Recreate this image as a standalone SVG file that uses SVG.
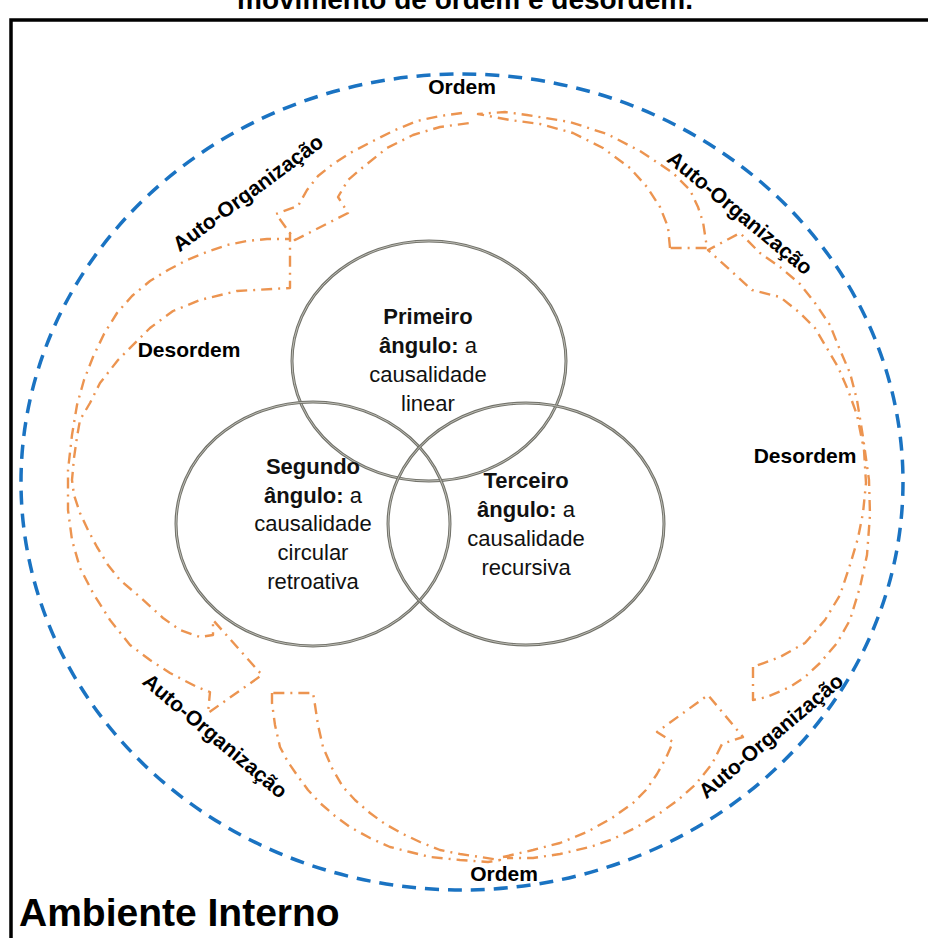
<svg xmlns="http://www.w3.org/2000/svg" width="928" height="938" viewBox="0 0 928 938">
<style>
.lbl{font-family:"Liberation Sans",Arial,sans-serif;font-weight:bold;font-size:21px;fill:#000}
.ct{font-family:"Liberation Sans",Arial,sans-serif;font-size:22px;fill:#111;text-anchor:middle}
.b{font-weight:bold}
.circ{fill:none;stroke:#72726a;stroke-width:3}
.circi{fill:none;stroke:#cfcfc8;stroke-width:0.8}
.arr{fill:none;stroke:#EC9450;stroke-width:2.4;stroke-dasharray:11 6 2 6;stroke-linejoin:round}
</style>
<rect width="928" height="938" fill="#fff"/>
<text x="465" y="9" text-anchor="middle" style="font-family:'Liberation Sans',Arial,sans-serif;font-weight:bold;font-size:28px">movimento de ordem e desordem.</text>
<path d="M928,20 H11 V938" fill="none" stroke="#000" stroke-width="3.5"/>
<ellipse id="env" cx="462" cy="482" rx="441" ry="408" fill="none" stroke="#1a73c2" stroke-width="3.5" stroke-dasharray="14 9"/>

<g id="connectors">
<path class="arr" d="M462,113 L440,116 L417,121 L395,130 L373,141 L352,152 L333,164 L318,176 L307,190 L298,206 L276,214 L295,240 L348,213 L338,197 L348,180 L362,168 L387,148 L413,135 L440,127 L470,123"/>
<path class="arr" d="M670,248 L668,227 L660,207 L647,187 L630,168 L603,148 L573,133 L540,124 L510,120 L478,114 L505,112 L527,115 L570,122 L607,134 L640,151 L673,173 L690,190 L698,207 L703,222 L705,235 L707,248 Z"/>
<path class="arr" d="M753,667 L753,700 L767,697 L790,687 L805,677 L820,663 L837,643 L850,620 L860,587 L867,555 L870,515 L869,480 L863,437 L857,400 L850,373 L840,350 L830,325 L815,303 L800,284 L780,267 L760,253 L740,233 L708,250 L752,290 L780,297 L800,313 L815,328 L825,345 L838,367 L848,390 L857,415 L864,450 L866,483 L863,513 L858,538 L850,565 L840,595 L825,620 L805,643 L780,657 Z"/>
<path class="arr" d="M503,857 L533,850 L560,843 L587,832 L612,818 L633,803 L646,790 L657,774 L666,758 L673,742 L657,732 L708,695 L743,737 L722,744 L712,764 L695,785 L678,800 L660,813 L637,827 L613,839 L590,847 L560,854 L533,858 L507,858"/>
<path class="arr" d="M272,693 L272,703 L275,725 L280,747 L288,762 L297,775 L308,790 L320,803 L335,816 L350,827 L370,838 L390,847 L410,852 L430,857 L460,860 L488,862 L500,860 L480,857 L460,854 L440,850 L420,842 L403,834 L385,824 L370,813 L355,800 L343,787 L332,768 L323,747 L318,725 L315,705 L313,693 Z"/>
<path class="arr" d="M290,233 L290,239 L267,239 L247,241 L227,245 L207,252 L187,260 L168,270 L150,281 L132,296 L117,313 L104,334 L93,357 L84,380 L77,405 L72,435 L68,470 L68,510 L72,540 L80,568 L93,593 L110,620 L130,645 L150,660 L170,673 L197,687 L210,692 L208,713 L262,675 L213,620 L213,635 L200,637 L180,630 L163,618 L140,597 L120,580 L108,565 L97,547 L88,530 L80,513 L74,495 L72,480 L74,458 L77,437 L80,420 L90,403 L100,383 L118,360 L137,341 L150,328 L173,311 L200,300 L237,291 L290,288 Z"/>
</g>

<g id="labels">
<text class="lbl" x="462" y="94" text-anchor="middle">Ordem</text>
<text class="lbl" x="504" y="881" text-anchor="middle">Ordem</text>
<text class="lbl" x="189" y="357" text-anchor="middle">Desordem</text>
<text class="lbl" x="805" y="463" text-anchor="middle">Desordem</text>
<text class="lbl" text-anchor="middle" transform="translate(248,193) rotate(-36.5)" y="7">Auto-Organização</text>
<text class="lbl" text-anchor="middle" transform="translate(740,213) rotate(39.6)" y="7">Auto-Organização</text>
<text class="lbl" text-anchor="middle" transform="translate(215,736) rotate(39.9)" y="7">Auto-Organização</text>
<text class="lbl" text-anchor="middle" transform="translate(771,736) rotate(-40)" y="7">Auto-Organização</text>
</g>

<g id="n1">
<ellipse class="circ" cx="429" cy="361" rx="137" ry="120"/>
<ellipse class="circi" cx="429" cy="361" rx="137" ry="120"/>
</g>
<g id="n2">
<ellipse class="circ" cx="313" cy="524" rx="137" ry="122"/>
<ellipse class="circi" cx="313" cy="524" rx="137" ry="122"/>
</g>
<g id="n3">
<ellipse class="circ" cx="526" cy="524" rx="138" ry="121"/>
<ellipse class="circi" cx="526" cy="524" rx="138" ry="121"/>
</g>
<g id="t1">
<text class="ct b" x="428" y="324">Primeiro</text>
<text class="ct" x="428" y="353"><tspan class="b">ângulo:</tspan> a</text>
<text class="ct" x="428" y="382">causalidade</text>
<text class="ct" x="428" y="411">linear</text>
</g>
<g id="t2">
<text class="ct b" x="313" y="474">Segundo</text>
<text class="ct" x="313" y="503"><tspan class="b">ângulo:</tspan> a</text>
<text class="ct" x="313" y="531">causalidade</text>
<text class="ct" x="313" y="560">circular</text>
<text class="ct" x="313" y="589">retroativa</text>
</g>
<g id="t3">
<text class="ct b" x="526" y="488">Terceiro</text>
<text class="ct" x="526" y="517"><tspan class="b">ângulo:</tspan> a</text>
<text class="ct" x="526" y="546">causalidade</text>
<text class="ct" x="526" y="575">recursiva</text>
</g>
<text x="19" y="926" style="font-family:'Liberation Sans',Arial,sans-serif;font-weight:bold;font-size:39px">Ambiente Interno</text>
</svg>
